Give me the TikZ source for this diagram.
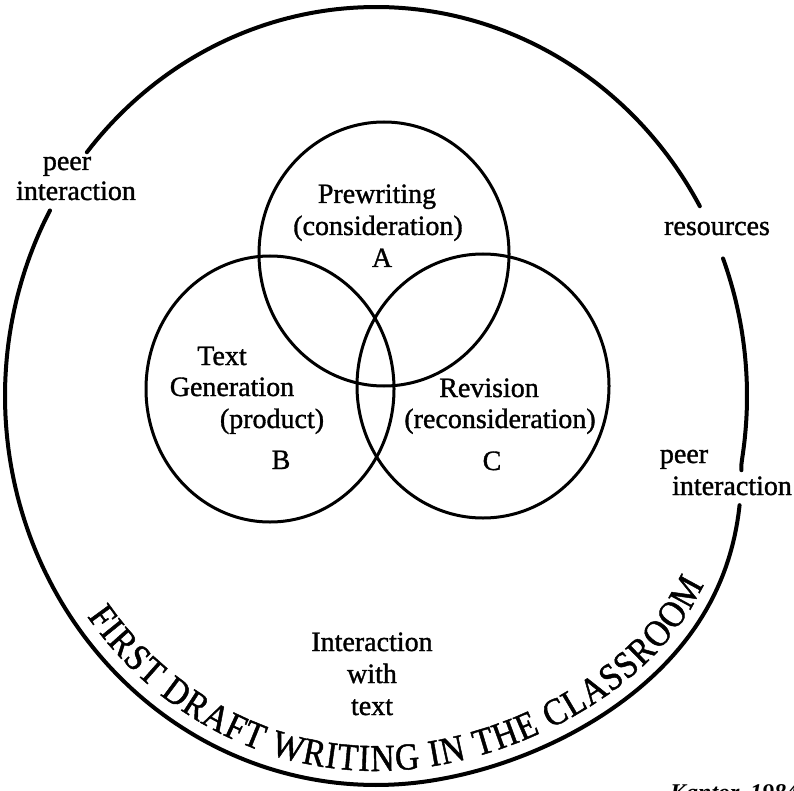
\documentclass[tikz,border=0pt]{standalone}
\usepackage{fontspec}
\setmainfont{Liberation Serif}
\newfontfamily\lblfont[FakeBold=1.2]{Liberation Serif}
\newfontfamily\titlefont[FakeStretch=0.88,FakeBold=1.2]{Liberation Serif}
\usetikzlibrary{decorations.text}
\tikzset{
  outerline/.style={line width=4pt, line cap=round},
  innercircle/.style={line width=3pt},
  lbl/.style={anchor=base, inner sep=0pt, font=\lblfont\fontsize{28}{32}\selectfont},
  declare function={orx(\t)=371+and(\t>10,\t<80)*28*sin(2.5714*(\t-10));}
}
\begin{document}
\begin{tikzpicture}[x=1pt,y=-1pt]
\useasboundingbox (0,0) rectangle (794,791);
% outer boundary (gaps for labels)
\draw[outerline] plot[domain=-20.7:11, samples=40, variable=\t] ({376+orx(\t)*cos(\t)}, {396+389*sin(\t)});
\draw[outerline] plot[domain=16.3:208.5, samples=160, variable=\t] ({376+orx(\t)*cos(\t)}, {396+389*sin(\t)});
\draw[outerline] plot[domain=218.8:330.8, samples=100, variable=\t] ({376+orx(\t)*cos(\t)}, {396+389*sin(\t)});
% curved title
\path[decorate, decoration={text along path, text align={fit to path},
  text={|\titlefont\fontsize{38}{38}\selectfont|FIRST DRAFT WRITING IN THE CLASSROOM}}]
  plot[domain=0:1, samples=120, variable=\u] ({376+(orx(144-114*\u)-14)*cos(144-114*\u)}, {396+375*sin(144-114*\u)});
% three circles
\draw[innercircle] (384,254) ellipse [x radius=125, y radius=132];
\draw[innercircle] (270,389) ellipse [x radius=124, y radius=133];
\draw[innercircle] (483,386) ellipse [x radius=126, y radius=132];
% circle A
\node[lbl] (a1) at (377,203) {Prewriting};
\node[lbl] (a2) at (378,235) {(consideration)};
\node[lbl] (a3) at (382,267) {A};
% circle B
\node[lbl] (b1) at (222,365) {Text};
\node[lbl] (b2) at (232,396) {Generation};
\node[lbl] (b3) at (272,428) {(product)};
\node[lbl] (b4) at (281,469) {B};
% circle C
\node[lbl] (c1) at (489,397) {Revision};
\node[lbl] (c2) at (500,428) {(reconsideration)};
\node[lbl] (c3) at (492,470) {C};
% outer labels
\node[lbl] (pl1) at (67,170) {peer};
\node[lbl] (pl2) at (76,200) {interaction};
\node[lbl] (res) at (717,235) {resources};
\node[lbl] (pr1) at (684,463) {peer};
\node[lbl] (pr2) at (732,495) {interaction};
\node[lbl] (i1) at (372,651) {Interaction};
\node[lbl] (i2) at (372,683) {with};
\node[lbl] (i3) at (372,715) {text};
% source (cut off at page edge)
\node[anchor=north west, inner sep=0pt, font=\fontsize{24}{24}\selectfont\bfseries\itshape] (src) at (670,784) {Kantor, 1984};
\end{tikzpicture}
\end{document}
